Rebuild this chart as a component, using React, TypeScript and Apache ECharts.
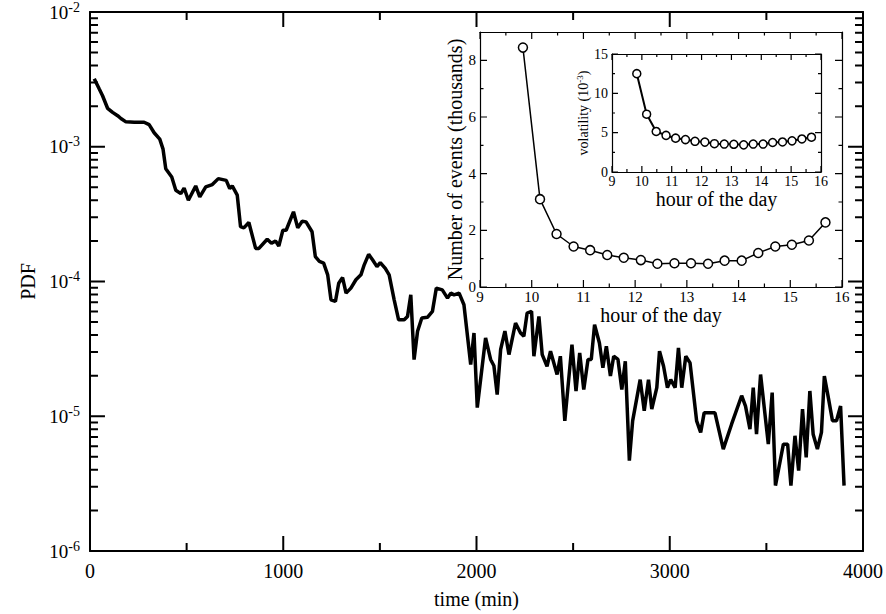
import React, { useEffect, useRef } from "react";
import * as echarts from "echarts";

// ---- main plot: PDF of inter-event time ----
const timeMin = [
  22, 48, 65, 91, 117, 143, 160, 186, 229, 280,
  306, 332, 361, 378, 392, 423, 444, 470, 487, 509,
  547, 568, 599, 633, 664, 705, 723, 736, 762, 779,
  796, 822, 857, 874, 917, 939, 960, 977, 998, 1015,
  1053, 1075, 1098, 1118, 1149, 1166, 1187, 1209, 1230, 1247,
  1270, 1287, 1307, 1325, 1350, 1376, 1402, 1419, 1442, 1462,
  1485, 1502, 1528, 1548, 1574, 1597, 1626, 1643, 1660, 1677,
  1695, 1717, 1746, 1772, 1792, 1823, 1850, 1867, 1884, 1910,
  1935, 1970, 1987, 2004, 2047, 2073, 2090, 2107, 2125, 2147,
  2168, 2202, 2228, 2245, 2262, 2285, 2297, 2323, 2340, 2365,
  2383, 2417, 2434, 2457, 2494, 2515, 2534, 2555, 2577, 2594,
  2611, 2636, 2654, 2672, 2693, 2710, 2732, 2752, 2770, 2791,
  2808, 2847, 2868, 2890, 2907, 2933, 2947, 2968, 2988, 3005,
  3028, 3045, 3062, 3083, 3105, 3139, 3160, 3178, 3234, 3277,
  3320, 3372, 3392, 3415, 3432, 3449, 3470, 3510, 3530, 3547,
  3588, 3610, 3627, 3648, 3667, 3687, 3706, 3725, 3742, 3764,
  3785, 3800, 3822, 3842, 3863, 3884, 3902,
];
const pdfValues = [
  3.2e-3, 2.68e-3, 2.39e-3, 1.93e-3, 1.8e-3, 1.7e-3, 1.62e-3, 1.53e-3, 1.52e-3, 1.52e-3,
  1.46e-3, 1.27e-3, 1.14e-3, 9.6e-4, 6.87e-4, 5.96e-4, 4.75e-4, 4.49e-4, 4.94e-4, 4.01e-4,
  5.12e-4, 4.24e-4, 5.03e-4, 5.24e-4, 5.8e-4, 5.63e-4, 4.89e-4, 5.12e-4, 4.37e-4, 2.55e-4,
  2.5e-4, 2.74e-4, 1.76e-4, 1.76e-4, 2.06e-4, 1.92e-4, 2.0e-4, 1.83e-4, 2.4e-4, 2.4e-4,
  3.29e-4, 2.5e-4, 2.8e-4, 2.77e-4, 2.34e-4, 1.53e-4, 1.41e-4, 1.37e-4, 1.12e-4, 7.31e-5,
  7.11e-5, 9.7e-5, 1.07e-4, 8.2e-5, 8.93e-5, 1.03e-4, 1.12e-4, 1.33e-4, 1.59e-4, 1.45e-4,
  1.29e-4, 1.38e-4, 1.25e-4, 1.12e-4, 7.31e-5, 5.2e-5, 5.2e-5, 5.5e-5, 7.96e-5, 2.63e-5,
  4.28e-5, 5.36e-5, 5.42e-5, 6.0e-5, 8.93e-5, 8.67e-5, 7.53e-5, 8.2e-5, 7.96e-5, 8.2e-5,
  6.72e-5, 2.42e-5, 4.15e-5, 1.16e-5, 3.81e-5, 2.64e-5, 2.37e-5, 1.45e-5, 3.13e-5, 4.28e-5,
  2.87e-5, 4.92e-5, 4.15e-5, 3.93e-5, 5.83e-5, 6.0e-5, 2.79e-5, 5.51e-5, 2.87e-5, 2.35e-5,
  3.04e-5, 2.04e-5, 2.79e-5, 9.25e-6, 3.4e-5, 1.54e-5, 2.95e-5, 1.58e-5, 2.64e-5, 2.64e-5,
  4.78e-5, 3.5e-5, 2.29e-5, 3.31e-5, 1.99e-5, 2.79e-5, 2.64e-5, 1.58e-5, 2.56e-5, 4.69e-6,
  9.25e-6, 1.87e-5, 1.1e-5, 1.87e-5, 1.13e-5, 1.63e-5, 3.04e-5, 2.35e-5, 1.63e-5, 1.87e-5,
  1.63e-5, 3.21e-5, 1.63e-5, 2.79e-5, 2.49e-5, 9.25e-6, 7.59e-6, 1.06e-5, 1.06e-5, 5.7e-6,
  8.73e-6, 1.42e-5, 1.19e-5, 8.02e-6, 1.63e-5, 7.36e-6, 2.04e-5, 6.21e-6, 1.5e-5, 3.06e-6,
  6.21e-6, 6.21e-6, 3.06e-6, 7.16e-6, 3.95e-6, 1.13e-5, 4.96e-6, 1.54e-5, 7.36e-6, 5.7e-6,
  7.59e-6, 1.99e-5, 1.34e-5, 9.25e-6, 9.25e-6, 1.19e-5, 3.06e-6,
];

// ---- insets: intraday pattern ----
const hourOfDay = [
  9.83, 10.16, 10.48, 10.81, 11.13, 11.46, 11.78, 12.11, 12.43, 12.76,
  13.08, 13.41, 13.73, 14.06, 14.38, 14.71, 15.03, 15.36, 15.68,
];
const eventsThousands = [
  8.45, 3.1, 1.87, 1.43, 1.3, 1.13, 1.03, 0.95, 0.82, 0.84,
  0.84, 0.82, 0.93, 0.93, 1.2, 1.43, 1.49, 1.64, 2.28,
];
const volatility = [
  12.5, 7.35, 5.15, 4.65, 4.3, 4.12, 3.9, 3.8, 3.6, 3.55,
  3.52, 3.45, 3.55, 3.55, 3.75, 3.82, 3.96, 4.2, 4.42,
];

// ---- axis tick values ----
const mainXMajor = [0, 1000, 2000, 3000, 4000];
const mainXMinor = [500, 1500, 2500, 3500];
const mainYMajor = [1e-6, 1e-5, 1e-4, 1e-3, 1e-2];
const logMultipliers = [2, 3, 4, 5, 6, 7, 8, 9];
const mainYMinor: number[] = [];
[1e-6, 1e-5, 1e-4, 1e-3].forEach((d) => logMultipliers.forEach((m) => mainYMinor.push(d * m)));
const hourMajor = [9, 10, 11, 12, 13, 14, 15, 16];
const hourMinor = [9.5, 10.5, 11.5, 12.5, 13.5, 14.5, 15.5];
const eventsMajor = [0, 2, 4, 6, 8];
const eventsMinor = [1, 3, 5, 7];
const volMajor = [0, 5, 10, 15];
const volMinor = [2.5, 7.5, 12.5];

// ---- layout ----
const G_MAIN = { left: 90, top: 12, width: 775, height: 542 };
const G_EVT = { left: 480, top: 32, width: 362, height: 255 };
const G_VOL = { left: 612, top: 54, width: 209, height: 118 };

const SERIF = '"Liberation Serif", "Times New Roman", Times, serif';
const BLACK = "#000";

function makeAxis(o: any) {
  const isLog = o.type === "log";
  return {
    type: o.type ?? "value",
    gridIndex: o.gridIndex,
    position: o.position,
    min: o.min,
    max: o.max,
    ...(o.interval !== undefined ? { interval: o.interval } : {}),
    ...(isLog ? { logBase: 10, splitNumber: 4 } : {}),
    axisLine: { show: true, onZero: false, lineStyle: { color: BLACK, width: o.lw } },
    axisTick: { show: false },
    minorTick: { show: false },
    splitLine: { show: false },
    minorSplitLine: { show: false },
    axisLabel: {
      show: !!o.labels,
      color: BLACK,
      fontFamily: SERIF,
      fontSize: o.fontSize ?? 14,
      margin: o.labelMargin ?? 8,
      formatter: o.formatter ?? ((v: number) => String(v)),
      ...(o.rich ? { rich: o.rich } : {}),
    },
    name: o.name ?? "",
    nameLocation: "middle",
    nameGap: o.nameGap ?? 0,
    ...(o.nameRotate !== undefined ? { nameRotate: o.nameRotate } : {}),
    nameTextStyle: {
      color: BLACK,
      fontFamily: SERIF,
      fontSize: o.nameSize ?? 20,
      ...(o.nameRich ? { rich: o.nameRich } : {}),
    },
  };
}

// inward tick marks on all four sides of a grid, drawn as a broken line series in data space
function tickSeries(o: any) {
  const { g, xr, yr, logY, xMajor, xMinor, yMajor, yMinor, majLen, minLen, lw, xAxisIndex, yAxisIndex } = o;
  const dxPerPx = (xr[1] - xr[0]) / g.width;
  const dyPerPx = logY ? (Math.log10(yr[1]) - Math.log10(yr[0])) / g.height : (yr[1] - yr[0]) / g.height;
  const yShift = (y: number, px: number) => (logY ? y * Math.pow(10, px * dyPerPx) : y + px * dyPerPx);
  const brk = ["-", "-"];
  const data: any[] = [];
  const addY = (v: number, len: number) => {
    data.push([xr[0], v], [xr[0] + len * dxPerPx, v], brk, [xr[1] - len * dxPerPx, v], [xr[1], v], brk);
  };
  const addX = (u: number, len: number) => {
    data.push([u, yr[0]], [u, yShift(yr[0], len)], brk, [u, yr[1]], [u, yShift(yr[1], -len)], brk);
  };
  xMajor.forEach((u: number) => addX(u, majLen));
  xMinor.forEach((u: number) => addX(u, minLen));
  yMajor.forEach((v: number) => addY(v, majLen));
  yMinor.forEach((v: number) => addY(v, minLen));
  return {
    type: "line",
    xAxisIndex,
    yAxisIndex,
    data,
    showSymbol: false,
    symbol: "none",
    silent: true,
    clip: false,
    connectNulls: false,
    lineStyle: { color: BLACK, width: lw, cap: "butt" },
    z: 3,
  };
}

export default function App() {
  const ref = useRef<HTMLDivElement>(null);
  useEffect(() => {
    if (!ref.current) return;
    const chart = echarts.init(ref.current, null, { renderer: "svg" });

    const option: any = {
      animation: false,
      backgroundColor: "#fff",
      grid: [G_MAIN, G_EVT, G_VOL],
      xAxis: [
        makeAxis({
          gridIndex: 0, position: "bottom", min: 0, max: 4000, interval: 1000,
          labels: true, lw: 2, fontSize: 20, labelMargin: 10,
          name: "time (min)", nameGap: 38, nameSize: 20,
        }),
        makeAxis({ gridIndex: 0, position: "top", min: 0, max: 4000, interval: 1000, labels: false, lw: 2 }),
        makeAxis({
          gridIndex: 1, position: "bottom", min: 9, max: 16, interval: 1,
          labels: true, lw: 1.2, fontSize: 15, labelMargin: 2,
          name: "hour of the day", nameGap: 15, nameSize: 20,
        }),
        makeAxis({ gridIndex: 1, position: "top", min: 9, max: 16, interval: 1, labels: false, lw: 1.2 }),
        makeAxis({
          gridIndex: 2, position: "bottom", min: 9, max: 16, interval: 1,
          labels: true, lw: 1.2, fontSize: 14, labelMargin: 2,
          name: "hour of the day", nameGap: 16, nameSize: 20,
        }),
        makeAxis({ gridIndex: 2, position: "top", min: 9, max: 16, interval: 1, labels: false, lw: 1.2 }),
      ],
      yAxis: [
        makeAxis({
          type: "log", gridIndex: 0, position: "left", min: 1e-6, max: 1e-2,
          labels: true, lw: 2, labelMargin: 10,
          formatter: (v: number) => `{a|10}{b|${Math.round(Math.log10(v))}}`,
          rich: {
            a: { fontFamily: SERIF, fontSize: 19, color: BLACK, lineHeight: 24 },
            b: { fontFamily: SERIF, fontSize: 14, color: BLACK, verticalAlign: "top", lineHeight: 14 },
          },
          name: "PDF", nameGap: 48, nameRotate: 90, nameSize: 20,
        }),
        makeAxis({ type: "log", gridIndex: 0, position: "right", min: 1e-6, max: 1e-2, labels: false, lw: 2 }),
        makeAxis({
          gridIndex: 1, position: "left", min: 0, max: 9, interval: 2,
          labels: true, lw: 1.2, fontSize: 15, labelMargin: 4,
          formatter: (v: number) => (v % 2 === 0 ? String(v) : ""),
          name: "Number of events (thousands)", nameGap: 15, nameRotate: 90, nameSize: 20,
        }),
        makeAxis({ gridIndex: 1, position: "right", min: 0, max: 9, interval: 2, labels: false, lw: 1.2 }),
        makeAxis({
          gridIndex: 2, position: "left", min: 0, max: 15, interval: 5,
          labels: true, lw: 1.2, fontSize: 14, labelMargin: 4,
          name: "{a|volatility (10}{b|-3}{a|)}", nameGap: 18, nameRotate: 90, nameSize: 14,
          nameRich: {
            a: { fontFamily: SERIF, fontSize: 14, color: BLACK, lineHeight: 16 },
            b: { fontFamily: SERIF, fontSize: 9, color: BLACK, verticalAlign: "top", lineHeight: 10 },
          },
        }),
        makeAxis({ gridIndex: 2, position: "right", min: 0, max: 15, interval: 5, labels: false, lw: 1.2 }),
      ],
      series: [
        {
          type: "line",
          xAxisIndex: 0,
          yAxisIndex: 0,
          data: timeMin.map((t, i) => [t, pdfValues[i]]),
          showSymbol: false,
          symbol: "none",
          lineStyle: { color: BLACK, width: 3.5 },
          z: 2,
        },
        tickSeries({
          g: G_MAIN, xr: [0, 4000], yr: [1e-6, 1e-2], logY: true,
          xMajor: mainXMajor, xMinor: mainXMinor, yMajor: mainYMajor, yMinor: mainYMinor,
          majLen: 15, minLen: 8, lw: 2, xAxisIndex: 0, yAxisIndex: 0,
        }),
        {
          type: "line",
          xAxisIndex: 2,
          yAxisIndex: 2,
          data: hourOfDay.map((h, i) => [h, eventsThousands[i]]),
          symbol: "circle",
          symbolSize: 9,
          itemStyle: { color: "#fff", borderColor: BLACK, borderWidth: 1.5 },
          lineStyle: { color: BLACK, width: 1.5 },
          z: 4,
        },
        tickSeries({
          g: G_EVT, xr: [9, 16], yr: [0, 9], logY: false,
          xMajor: hourMajor, xMinor: hourMinor, yMajor: eventsMajor, yMinor: eventsMinor,
          majLen: 7, minLen: 3.5, lw: 1.2, xAxisIndex: 2, yAxisIndex: 2,
        }),
        {
          type: "line",
          xAxisIndex: 4,
          yAxisIndex: 4,
          data: hourOfDay.map((h, i) => [h, volatility[i]]),
          symbol: "circle",
          symbolSize: 8,
          itemStyle: { color: "#fff", borderColor: BLACK, borderWidth: 1.5 },
          lineStyle: { color: BLACK, width: 2 },
          z: 5,
        },
        tickSeries({
          g: G_VOL, xr: [9, 16], yr: [0, 15], logY: false,
          xMajor: hourMajor, xMinor: hourMinor, yMajor: volMajor, yMinor: volMinor,
          majLen: 6, minLen: 3, lw: 1.2, xAxisIndex: 4, yAxisIndex: 4,
        }),
      ],
    };

    chart.setOption(option);
    return () => chart.dispose();
  }, []);

  return (
    <div
      ref={ref}
      style={{ position: "fixed", left: 0, top: 0, width: 886, height: 614, background: "#fff" }}
    />
  );
}
